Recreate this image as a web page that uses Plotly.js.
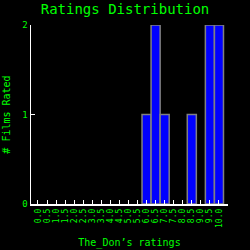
<!DOCTYPE html>
<html><head><meta charset="utf-8">
<script src="https://cdn.plot.ly/plotly-3.0.1.min.js"></script>
<style>html,body{margin:0;padding:0;background:#000;}#chart{width:250px;height:250px;}</style>
</head><body><div id="chart"></div>
<script>
const ratingLabels = ["0.0","0.5","1.0","1.5","2.0","2.5","3.0","3.5","4.0","4.5","5.0","5.5","6.0","6.5","7.0","7.5","8.0","8.5","9.0","9.5","10.0"];
const filmCounts = [0,0,0,0,0,0,0,0,0,0,0,0,1,2,1,0,0,1,0,2,2];
const yTicks = [0,1,2];

const green = '#00ff00';
const fontFam = '"DejaVu Sans Mono", "Liberation Mono", monospace';

const trace = {
  type: 'bar',
  x: ratingLabels,
  y: filmCounts,
  marker: {color: '#0000ff', line: {color: '#808080', width: filmCounts.map(v => v > 0 ? 1.5 : 0)}},
  hoverinfo: 'none'
};

const layout = {
  width: 250, height: 250,
  paper_bgcolor: '#000', plot_bgcolor: '#000',
  margin: {l: 31, r: 22, t: 25, b: 46},
  bargap: 0,
  showlegend: false,
  font: {family: fontFam, color: green, size: 9},
  title: {text: 'Ratings Distribution', font: {family: fontFam, color: green, size: 14}, x: 0.5, xanchor: 'center', y: 0.962, yanchor: 'middle'},
  xaxis: {
    type: 'category',
    range: [-0.77, 21.0],
    tickvals: ratingLabels, ticktext: ratingLabels,
    tickangle: -90,
    ticks: 'inside', ticklen: 4, tickcolor: '#fff', tickwidth: 1,
    showline: true, linecolor: '#fff', linewidth: 1.5,
    showgrid: false, zeroline: false,
    tickfont: {family: fontFam, color: green, size: 8},
    title: {text: 'The_Don’s ratings', font: {family: fontFam, color: green, size: 10}, standoff: 12}
  },
  yaxis: {
    range: [0, 2],
    tickvals: yTicks,
    ticks: 'inside', ticklen: 4, tickcolor: '#fff', tickwidth: 1,
    showline: true, linecolor: '#fff', linewidth: 1.5,
    showgrid: false, zeroline: false,
    tickfont: {family: fontFam, color: green, size: 9},
    title: {text: '# Films Rated', font: {family: fontFam, color: green, size: 10}, standoff: 10}
  }
};

Plotly.newPlot('chart', [trace], layout, {staticPlot: true, displayModeBar: false});
</script></body></html>
